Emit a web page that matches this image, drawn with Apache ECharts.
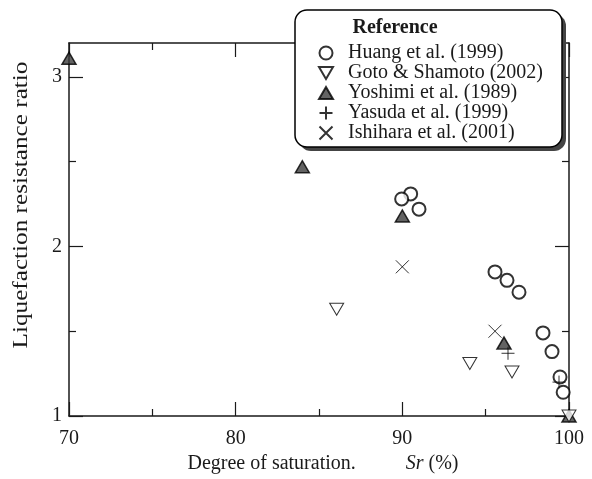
<!DOCTYPE html>
<html>
<head>
<meta charset="utf-8">
<script src="https://cdn.jsdelivr.net/npm/echarts@6/dist/echarts.min.js"></script>
<style>
  html, body { margin: 0; padding: 0; background: #fff; }
  #chart { width: 592px; height: 479px; }
</style>
</head>
<body>
<div id="chart"></div>
<script>
// Liquefaction resistance ratio versus degree of saturation, Sr (%)
const seriesNames = [
  'Huang et al. (1999)',
  'Goto & Shamoto (2002)',
  'Yoshimi et al. (1989)',
  'Yasuda et al. (1999)',
  'Ishihara et al. (2001)'
];

// [Sr (%), resistance ratio]
const huang = [[90.5, 2.31], [89.96, 2.28], [91.0, 2.22], [95.56, 1.85], [96.28, 1.80],
               [97.0, 1.73], [98.44, 1.49], [98.98, 1.38], [99.46, 1.23], [99.65, 1.14]];
const goto = [[86.06, 1.63], [94.05, 1.31], [96.58, 1.26], [100, 1.0]];
const yoshimi = [[70, 3.11], [84.0, 2.47], [90.0, 2.18], [96.1, 1.43], [100, 1.0]];
const yasuda = [[96.34, 1.37], [99.4, 1.20]];
const ishihara = [[90.0, 1.88], [95.56, 1.50]];

const xTicks = [70, 80, 90, 100];
const yMajorTicks = [1, 2, 3];
const yMinorTicks = [1.5, 2.5];

const serif = 'Liberation Serif';
const ink = '#1a1a1a';

const chart = echarts.init(document.getElementById('chart'), null, { renderer: 'canvas' });

const xBase = {
  type: 'value', min: xTicks[0], max: xTicks[xTicks.length - 1], interval: 10,
  axisLine: { show: true, onZero: false, lineStyle: { color: ink, width: 1.5 } },
  axisTick: { show: true, inside: true, length: 14, lineStyle: { color: ink, width: 1.2 } },
  minorTick: { show: true, splitNumber: 2, length: 7, lineStyle: { color: ink, width: 1.2 } },
  splitLine: { show: false }
};

const yRange = { type: 'value', min: 1, max: 3.2, splitLine: { show: false } };

function yAxisDef(position, values, len, showLine, showLabels) {
  return Object.assign({}, yRange, {
    position: position,
    axisLine: { show: showLine, onZero: false, lineStyle: { color: ink, width: 1.5 } },
    axisTick: { show: true, inside: true, length: len, customValues: values,
                lineStyle: { color: ink, width: 1.2 } },
    axisLabel: showLabels
      ? { show: true, customValues: yMajorTicks, margin: 7, fontFamily: serif, fontSize: 20, color: ink }
      : { show: false }
  });
}

const symDown = 'path://M0,0L14,0L7,12Z';
const symUp = 'path://M7,0L14,12L0,12Z';
const symPlus = 'path://M0,6L12,6M6,0L6,12';
const symCross = 'path://M0,0L12,12M12,0L0,12';

chart.setOption({
  animation: false,
  backgroundColor: '#fff',
  grid: { left: 69, right: 23, top: 43, bottom: 57, containLabel: false },
  xAxis: [
    Object.assign({}, xBase, {
      position: 'bottom',
      axisLabel: { show: true, margin: 13, fontFamily: serif, fontSize: 20, color: ink },
      name: '{lead|}{a|Degree of saturation.}{gap|}{i|Sr}{a| (%)}',
      nameLocation: 'middle', nameGap: 38,
      nameTextStyle: {
        rich: {
          lead: { width: 8 },
          a: { fontFamily: serif, fontSize: 20, color: ink },
          gap: { width: 50 },
          i: { fontFamily: serif, fontSize: 20, fontStyle: 'italic', color: ink }
        }
      }
    }),
    Object.assign({}, xBase, { position: 'top', axisLabel: { show: false } })
  ],
  yAxis: [
    yAxisDef('left', yMajorTicks, 14, true, true),
    yAxisDef('right', yMajorTicks, 14, true, false),
    yAxisDef('left', yMinorTicks, 7, false, false),
    yAxisDef('right', yMinorTicks, 7, false, false)
  ],
  legend: {
    orient: 'vertical', left: 313, top: 38, z: 10,
    itemWidth: 14, itemHeight: 13, itemGap: 0,
    data: seriesNames,
    textStyle: { fontFamily: serif, fontSize: 20, lineHeight: 19.7, color: ink,
                 padding: [0, 0, 0, 10] }
  },
  graphic: [
    { type: 'rect', z: 3, shape: { x: 299, y: 14, width: 267, height: 137, r: 12 },
      style: { fill: '#444', stroke: null } },
    { type: 'rect', z: 3, shape: { x: 295, y: 10, width: 267, height: 137, r: 12 },
      style: { fill: '#fff', stroke: '#000', lineWidth: 1.5 } },
    { type: 'text', z: 11, x: 395, y: 28,
      style: { text: 'Reference', fontFamily: serif, fontSize: 20, fontWeight: 'bold',
               fill: ink, align: 'center', verticalAlign: 'middle' } },
    { type: 'text', z: 11, x: 22, y: 205, rotation: Math.PI / 2, scaleX: 1.26,
      style: { text: 'Liquefaction resistance ratio', fontFamily: serif, fontSize: 20,
               fill: ink, align: 'center', verticalAlign: 'middle' } }
  ],
  series: [
    { name: seriesNames[0], type: 'scatter', data: huang, clip: false, z: 2,
      symbol: 'emptyCircle', symbolSize: 13,
      itemStyle: { color: '#000', borderWidth: 1.1 } },
    { name: seriesNames[2], type: 'scatter', data: yoshimi, clip: false, z: 2,
      symbol: symUp, symbolSize: [14, 12],
      itemStyle: { color: '#3c3c3c', borderColor: '#000', borderWidth: 1.5 } },
    { name: seriesNames[1], type: 'scatter', data: goto, clip: false, z: 2,
      symbol: symDown, symbolSize: [14, 12],
      itemStyle: { color: '#fff', borderColor: '#000', borderWidth: 1 } },
    { name: seriesNames[3], type: 'scatter', data: yasuda, clip: false, z: 2,
      symbol: symPlus, symbolSize: 13,
      itemStyle: { color: 'transparent', borderColor: '#000', borderWidth: 1 } },
    { name: seriesNames[4], type: 'scatter', data: ishihara, clip: false, z: 2,
      symbol: symCross, symbolSize: 13,
      itemStyle: { color: 'transparent', borderColor: '#000', borderWidth: 1 } }
  ]
});
</script>
</body>
</html>
